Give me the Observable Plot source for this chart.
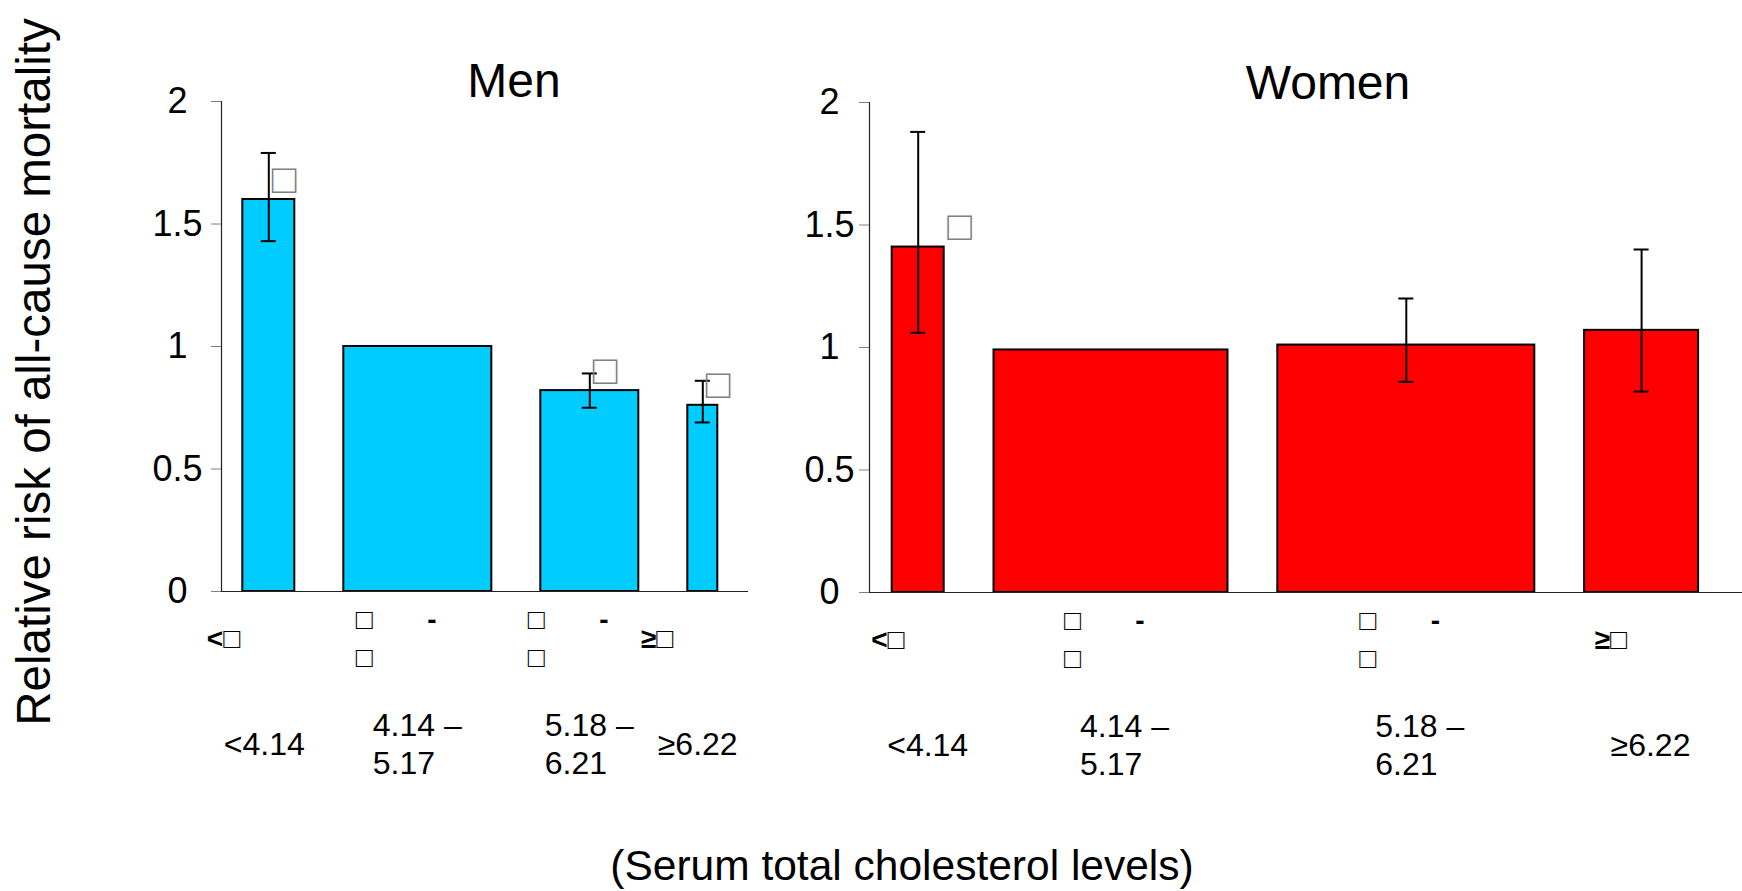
<!DOCTYPE html>
<html><head><meta charset="utf-8">
<script src="https://cdn.jsdelivr.net/npm/d3@7"></script>
<script src="https://cdn.jsdelivr.net/npm/@observablehq/plot@0.6"></script>
<style>
html,body{margin:0;padding:0;background:#fff;}
#root{position:relative;width:1742px;height:891px;overflow:hidden;font-family:"Liberation Sans",Arial,sans-serif;color:#000;}
.abs{position:absolute;line-height:1;white-space:nowrap;}
.abs svg{overflow:visible;}
</style></head><body><div id="root"></div>
<script>
// ---- data ----
const categories = ["<4.14", "4.14-5.17", "5.18-6.21", ">=6.22"];
const mmolLabels = ["<4.14", "4.14 \u2013\n5.17", "5.18 \u2013\n6.21", "\u22656.22"];
const NB = "\u00a0\u00a0\u00a0\u00a0\u00a0\u00a0\u00a0";
const mgLabels = ["<\u25a1", "\u25a1" + NB + "-\n\u25a1", "\u25a1" + NB + "-\n\u25a1", "\u2265\u25a1"];
const menRR = [1.60, 1.00, 0.82, 0.76];
const menLo = [1.43, null, 0.75, 0.69];
const menHi = [1.79, null, 0.89, 0.86];
const menSize = [52, 148, 98, 30];
const menSig = ["\u25a1", "", "\u25a1", "\u25a1"];
const womenRR = [1.41, 0.99, 1.01, 1.07];
const womenLo = [1.06, null, 0.86, 0.82];
const womenHi = [1.88, null, 1.20, 1.40];
const womenSize = [52, 234, 257, 114];
const womenSig = ["\u25a1", "", "", ""];
const yTicks = [0, 0.5, 1, 1.5, 2];
const yTickLabels = ["0", "0.5", "1", "1.5", "2"];
const panelTitles = ["Men", "Women"];
const yTitle = "Relative risk of all-cause mortality";
const xTitle = "(Serum total cholesterol levels)";

const FONT = '"Liberation Sans", Arial, sans-serif';
const root = document.getElementById("root");

function place(node, left, top) {
  const d = document.createElement("div");
  d.className = "abs";
  d.style.left = left + "px";
  d.style.top = top + "px";
  d.appendChild(node);
  root.appendChild(d);
}
function label(text, cx, cy, size, rotate) {
  const d = document.createElement("div");
  d.className = "abs";
  d.textContent = text;
  d.style.left = cx + "px";
  d.style.top = cy + "px";
  d.style.fontSize = size + "px";
  d.style.transform = "translate(-50%,-50%)" + (rotate ? " rotate(" + rotate + "deg)" : "");
  root.appendChild(d);
}

function panel(o) {
  let cursor = o.startGap;
  const rows = o.rr.map((v, i) => {
    const x1 = cursor, x2 = cursor + o.size[i];
    cursor = x2 + o.gap;
    return {cat: categories[i], rr: v, lo: o.lo[i], hi: o.hi[i], x1, x2, xc: (x1 + x2) / 2,
            sig: o.sig[i], mmol: mmolLabels[i], mg: mgLabels[i]};
  });
  const span = o.width - o.marginLeft - o.marginRight;
  const ci = rows.filter(d => d.lo != null);
  const cap = 7.5;
  return Plot.plot({
    width: o.width, height: o.height,
    marginLeft: o.marginLeft, marginRight: o.marginRight,
    marginTop: o.marginTop, marginBottom: o.marginBottom,
    style: {fontFamily: FONT, background: "transparent", overflow: "visible", color: "black"},
    x: {domain: [0, span], axis: null},
    y: {domain: [yTicks[0], yTicks[yTicks.length - 1]], axis: null},
    marks: [
      Plot.axisY(yTicks, {
        tickFormat: d => yTickLabels[yTicks.indexOf(d)],
        tickSize: 10, tickPadding: o.tickPad, textAnchor: "middle",
        fontSize: 36, stroke: "#808080", fill: "black", strokeWidth: 1
      }),
      Plot.rect(rows, {x1: "x1", x2: "x2", y1: 0, y2: "rr", fill: o.fill, stroke: "black", strokeWidth: 2}),
      Plot.ruleX(ci, {x: "xc", y1: "lo", y2: "hi", stroke: "black", strokeWidth: 2}),
      Plot.ruleY(ci, {y: "lo", x1: d => d.xc - cap, x2: d => d.xc + cap, stroke: "black", strokeWidth: 2}),
      Plot.ruleY(ci, {y: "hi", x1: d => d.xc - cap, x2: d => d.xc + cap, stroke: "black", strokeWidth: 2}),
      Plot.ruleX([0], {stroke: "#222", strokeWidth: 1.2}),
      Plot.ruleY([0], {stroke: "#222", strokeWidth: 1.2}),
      Plot.text(rows.filter(d => d.sig), {x: "xc", y: "rr", text: "sig", textAnchor: "start",
        lineAnchor: "bottom", dx: o.sigDx, dy: -7, fontSize: 41, fill: "#808080"}),
      Plot.text(rows, {x: "xc", text: "mg", frameAnchor: "bottom", textAnchor: "start",
        lineAnchor: "middle", dx: o.row1Dx, dy: 44, fontSize: 28, fontWeight: "bold", lineHeight: 1.37}),
      Plot.text(rows, {x: "xc", text: "mmol", frameAnchor: "bottom", textAnchor: "start",
        lineAnchor: "middle", dx: o.row2Dx, dy: 151, fontSize: 32, lineHeight: 1.2})
    ]
  });
}

const men = panel({rr: menRR, lo: menLo, hi: menHi, size: menSize, sig: menSig, fill: "#00CCFF",
  width: 760, height: 891, marginLeft: 221, marginRight: 12, marginTop: 101, marginBottom: 300,
  startGap: 21.3, gap: 49, tickPad: 34, sigDx: 3, row1Dx: -62, row2Dx: -45});
place(men, 0, 0);

const women = panel({rr: womenRR, lo: womenLo, hi: womenHi, size: womenSize, sig: womenSig, fill: "#FF0000",
  width: 982, height: 891, marginLeft: 109, marginRight: 0, marginTop: 101, marginBottom: 300,
  startGap: 22.7, gap: 49.8, tickPad: 30, sigDx: 29, row1Dx: -47, row2Dx: -31});
place(women, 760, 1);

label(panelTitles[0], 514, 81, 48);
label(panelTitles[1], 1328, 83, 48);
label(yTitle, 34, 372, 47.5, -90);
label(xTitle, 902, 866, 42.5);
</script></body></html>
